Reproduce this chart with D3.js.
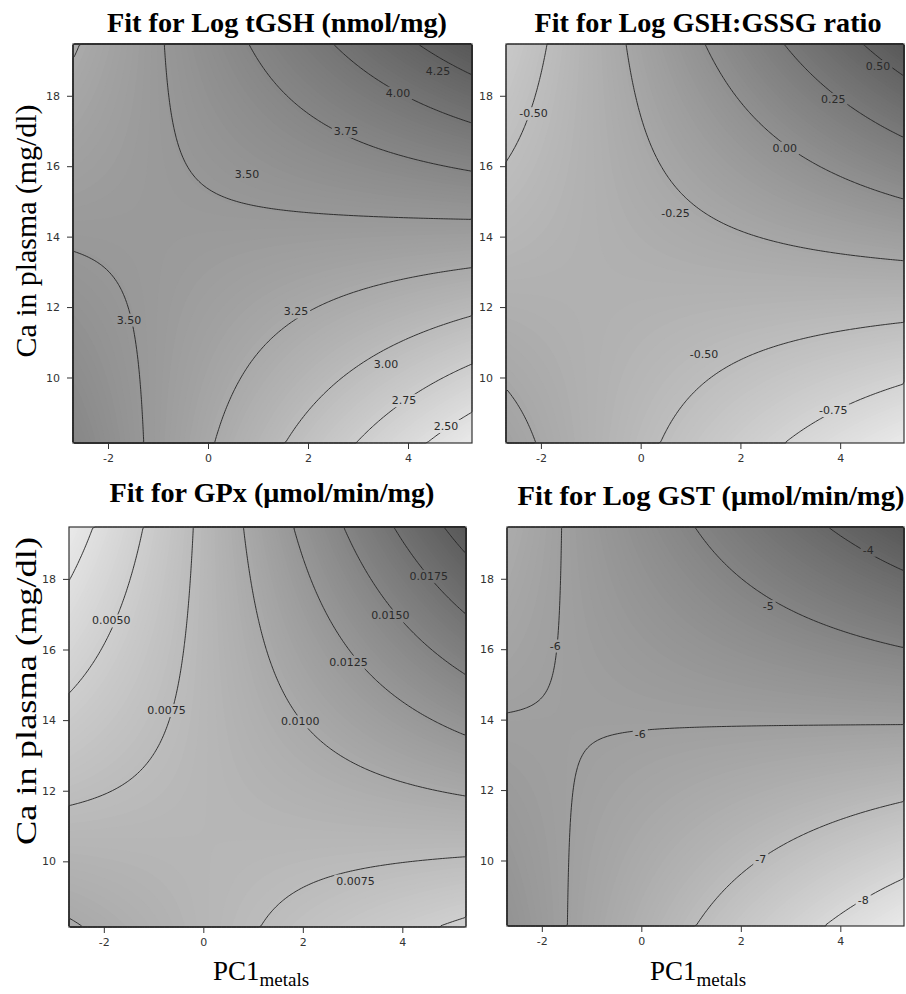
<!DOCTYPE html>
<html>
<head>
<meta charset="utf-8">
<script src="https://cdn.jsdelivr.net/npm/d3@7"></script>
<style>
  body { margin: 0; background: #fff; }
</style>
</head>
<body>
<svg id="chart" width="906" height="994"></svg>
<script>
// Axis ranges shared by the four fitted surfaces
var pcDomain = [-2.7, 5.28];
var caDomain = [8.14, 19.47];
var xTicks = [-2, 0, 2, 4];
var yTicks = [10, 12, 14, 16, 18];

var titles = [
  "Fit for Log tGSH (nmol/mg)",
  "Fit for Log GSH:GSSG ratio",
  "Fit for GPx (\u03bcmol/min/mg)",
  "Fit for Log GST (\u03bcmol/min/mg)"
];

// fitted value at the corners of the plotted area
// [bottom-left, bottom-right, top-left, top-right]
var cornersTGSH = [3.75, 2.34, 3.23, 4.41];
var cornersRatio = [-0.19, -0.99, -0.63, 0.63];
var cornersGPx = [0.0102, 0.0046, 0.0013, 0.0211];
var cornersGST = [-5.53, -8.62, -6.41, -3.43];

// contour levels drawn in each panel
var levelsTGSH = [2.50, 2.75, 3.00, 3.25, 3.50, 3.75, 4.00, 4.25];
var levelsRatio = [-0.75, -0.50, -0.25, 0.00, 0.25, 0.50];
var levelsGPx = [0.0025, 0.0050, 0.0075, 0.0100, 0.0125, 0.0150, 0.0175, 0.0200];
var levelsGST = [-8, -7, -6, -5, -4];

// contour labels: [PC1, Ca, level]
var labelsTGSH = [[4.6, 18.7, 4.25], [3.8, 18.08, 4.00], [2.76, 17.0, 3.75], [0.78, 15.77, 3.50],
                  [-1.58, 11.64, 3.50], [1.76, 11.87, 3.25], [3.56, 10.37, 3.00], [3.92, 9.35, 2.75],
                  [4.76, 8.62, 2.50]];
var labelsRatio = [[4.76, 18.84, 0.50], [3.86, 17.9, 0.25], [-2.15, 17.5, -0.50], [2.89, 16.52, 0.00],
                   [0.70, 14.67, -0.25], [1.27, 10.65, -0.50], [3.86, 9.07, -0.75]];
var labelsGPx = [[4.53, 18.08, 0.0175], [3.76, 16.96, 0.0150], [2.92, 15.65, 0.0125], [1.95, 13.96, 0.0100],
                 [-0.74, 14.28, 0.0075], [-1.85, 16.82, 0.0050], [3.06, 9.45, 0.0075]];
var labelsGST = [[4.56, 18.82, -4], [2.55, 17.22, -5], [-1.73, 16.1, -6], [-0.02, 13.6, -6],
                 [2.4, 10.05, -7], [4.46, 8.87, -8]];

var panels = [
  { title: titles[0], corners: cornersTGSH, levels: levelsTGSH, labels: labelsTGSH, digits: 2,
    box: [73, 44, 399, 399], titleX: 277, titleY: 32, titleLen: 340, yLabel: true, xLabel: false },
  { title: titles[1], corners: cornersRatio, levels: levelsRatio, labels: labelsRatio, digits: 2,
    box: [506, 44, 398, 399], titleX: 708, titleY: 32, titleLen: 347, yLabel: false, xLabel: false },
  { title: titles[2], corners: cornersGPx, levels: levelsGPx, labels: labelsGPx, digits: 4,
    box: [69, 527, 397, 400], titleX: 272, titleY: 502, titleLen: 325, yLabel: true, xLabel: true },
  { title: titles[3], corners: cornersGST, levels: levelsGST, labels: labelsGST, digits: 0,
    box: [507, 527, 397, 399], titleX: 711, titleY: 505, titleLen: 387, yLabel: false, xLabel: true }
];

var svg = d3.select("#chart");
var defs = svg.append("defs");

panels.forEach(function(p, k) {
  var bx = p.box[0], by = p.box[1], bw = p.box[2], bh = p.box[3];
  var xScale = d3.scaleLinear().domain(pcDomain).range([bx, bx + bw]);
  var yScale = d3.scaleLinear().domain(caDomain).range([by + bh, by]);

  // sample the fitted surface on a grid (row 0 = top)
  var n = 160, m = 160;
  var c = p.corners;
  var values = new Array(n * m);
  for (var j = 0; j < m; j++) {
    for (var i = 0; i < n; i++) {
      var u = (i + 0.5) / n, v = 1 - (j + 0.5) / m;
      values[j * n + i] = c[0] * (1 - u) * (1 - v) + c[1] * u * (1 - v) + c[2] * (1 - u) * v + c[3] * u * v;
    }
  }
  var gx = d3.scaleLinear().domain([0, n]).range([bx, bx + bw]);
  var gy = d3.scaleLinear().domain([0, m]).range([by, by + bh]);
  var path = d3.geoPath(d3.geoTransform({
    point: function(x, y) { this.stream.point(gx(x), gy(y)); }
  }));

  var zmin = d3.min(c), zmax = d3.max(c);
  var shade = d3.scaleLinear().domain([zmin, zmax]).range(["#e9e9e9", "#575757"]);
  var bands = d3.range(0, 120).map(function(i) { return zmin + (zmax - zmin) * i / 120; });

  var g = svg.append("g");
  g.append("rect").attr("x", bx).attr("y", by).attr("width", bw).attr("height", bh)
    .attr("fill", shade(zmin));
  g.append("g").selectAll("path")
    .data(d3.contours().size([n, m]).thresholds(bands)(values))
    .enter().append("path")
    .attr("d", path)
    .attr("fill", function(d) { return shade(d.value); });

  // contour labels first, so the line gaps can be cut round them
  var lab = g.append("g");
  lab.selectAll("text")
    .data(p.labels)
    .enter().append("text")
    .attr("x", function(d) { return xScale(d[0]); })
    .attr("y", function(d) { return yScale(d[1]); })
    .attr("dy", "0.35em")
    .attr("text-anchor", "middle")
    .style("font-family", "DejaVu Sans")
    .style("font-size", "11px")
    .style("fill", "#2a2a2a")
    .text(function(d) { return d[2].toFixed(p.digits); });

  var mask = defs.append("mask").attr("id", "gap" + k)
    .attr("maskUnits", "userSpaceOnUse")
    .attr("x", 0).attr("y", 0).attr("width", 906).attr("height", 994);
  mask.append("rect").attr("x", 0).attr("y", 0).attr("width", 906).attr("height", 994).attr("fill", "white");
  lab.selectAll("text").each(function() {
    var b = this.getBBox();
    mask.append("rect")
      .attr("x", b.x - 2).attr("y", b.y)
      .attr("width", b.width + 4).attr("height", b.height)
      .attr("fill", "black");
  });

  g.insert("g", function() { return lab.node(); })
    .attr("mask", "url(#gap" + k + ")")
    .selectAll("path")
    .data(d3.contours().size([n, m]).thresholds(p.levels)(values))
    .enter().append("path")
    .attr("d", path)
    .attr("fill", "none")
    .attr("stroke", "#222")
    .attr("stroke-width", 0.9);

  // frame
  g.append("rect").attr("x", bx).attr("y", by).attr("width", bw).attr("height", bh)
    .attr("fill", "none").attr("stroke", "#333").attr("stroke-width", 1.2);

  // axes
  var xAxis = g.append("g")
    .attr("transform", "translate(0," + (by + bh) + ")")
    .call(d3.axisBottom(xScale).tickValues(xTicks).tickSize(6).tickPadding(5)
      .tickFormat(function(d) { return String(d); }));
  var yAxis = g.append("g")
    .attr("transform", "translate(" + bx + ",0)")
    .call(d3.axisLeft(yScale).tickValues(yTicks).tickSize(6).tickPadding(7)
      .tickFormat(function(d) { return String(d); }));
  [xAxis, yAxis].forEach(function(ax) {
    ax.select(".domain").remove();
    ax.selectAll("line").attr("stroke", "#333");
    ax.selectAll("text")
      .style("font-family", "DejaVu Sans")
      .style("font-size", "11px")
      .style("fill", "#333");
  });

  // title
  svg.append("text")
    .attr("x", p.titleX).attr("y", p.titleY)
    .attr("text-anchor", "middle")
    .attr("textLength", p.titleLen)
    .attr("lengthAdjust", "spacingAndGlyphs")
    .style("font-family", "Liberation Serif")
    .style("font-weight", "bold")
    .style("font-size", "28px")
    .text(p.title);

  if (p.yLabel) {
    var cy = k === 0 ? 231 : 691;
    svg.append("text")
      .attr("transform", "translate(36," + cy + ") rotate(-90)")
      .attr("text-anchor", "middle")
      .attr("textLength", k === 0 ? 253 : 308)
      .attr("lengthAdjust", "spacingAndGlyphs")
      .style("font-family", "Liberation Serif")
      .style("font-size", "29px")
      .text("Ca in plasma (mg/dl)");
  }

  if (p.xLabel) {
    var xl = svg.append("text")
      .attr("x", k === 2 ? 213 : 650).attr("y", 980)
      .style("font-family", "Liberation Serif")
      .style("font-size", "27px");
    xl.append("tspan").text("PC1");
    xl.append("tspan").attr("dy", 6).style("font-size", "19px").text("metals");
  }
});
</script>
</body>
</html>
